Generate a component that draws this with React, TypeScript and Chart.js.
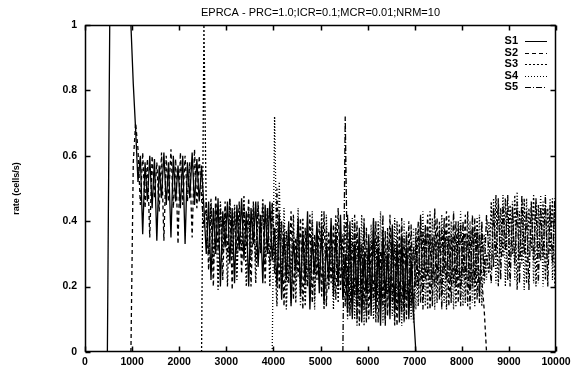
import React, { useEffect, useRef } from "react";
import { Chart, registerables } from "chart.js";

Chart.register(...registerables);

const TITLE = "EPRCA - PRC=1.0;ICR=0.1;MCR=0.01;NRM=10";
const Y_LABEL = "rate (cells/s)";
const SERIES_NAMES = ["S1", "S2", "S3", "S4", "S5"];
const X_TICKS = [0, 1000, 2000, 3000, 4000, 5000, 6000, 7000, 8000, 9000, 10000];
const Y_TICKS = [0, 0.2, 0.4, 0.6, 0.8, 1];

// sampling interval of the rate traces (time units)
const STEP = 50;

const S1_START = 475;
const S1 = [
  0, 1, 1, 1, 1, 1, 1, 1, 1, 1, 1, 0.82,
  0.68, 0.52, 0.6, 0.36, 0.58, 0.46, 0.6, 0.44, 0.59, 0.34, 0.57, 0.47, 0.61, 0.45, 0.58,
  0.35, 0.6, 0.46, 0.57, 0.44, 0.6, 0.33, 0.58, 0.47, 0.61, 0.45, 0.59, 0.46, 0.57,
  0.44, 0.3, 0.46, 0.22, 0.44, 0.3, 0.47, 0.2, 0.43, 0.32, 0.46, 0.27, 0.44, 0.21, 0.45,
  0.31, 0.47, 0.28, 0.43, 0.2, 0.44, 0.33, 0.46, 0.26, 0.42, 0.21, 0.45, 0.3, 0.46, 0.28,
  0.38, 0.2, 0.42, 0.16, 0.36, 0.22, 0.4, 0.14, 0.34, 0.25, 0.41, 0.17, 0.37, 0.21, 0.43,
  0.13, 0.35, 0.24, 0.4, 0.18, 0.38, 0.15, 0.33, 0.22, 0.41, 0.17, 0.36, 0.2, 0.42, 0.16,
  0.3, 0.12, 0.4, 0.1, 0.33, 0.16, 0.38, 0.09, 0.3, 0.18, 0.36, 0.11, 0.41, 0.14, 0.32,
  0.08, 0.37, 0.17, 0.3, 0.1, 0.39, 0.13, 0.34, 0.09, 0.36, 0.15, 0.31, 0.1, 0.28, 0.12,
  0,
];

const S2_START = 975;
const S2 = [
  0, 0.58,
  0.7, 0.62, 0.45, 0.61, 0.44, 0.59, 0.35, 0.6, 0.47, 0.58, 0.43, 0.61, 0.34, 0.6, 0.46,
  0.62, 0.44, 0.59, 0.33, 0.61, 0.45, 0.6, 0.46, 0.58, 0.35, 0.62, 0.44, 0.6, 0.47,
  0.38, 0.46, 0.25, 0.45, 0.2, 0.48, 0.31, 0.44, 0.22, 0.46, 0.29, 0.47, 0.19, 0.43, 0.3,
  0.46, 0.24, 0.45, 0.32, 0.47, 0.2, 0.44, 0.28, 0.46, 0.31, 0.45, 0.21, 0.44, 0.27, 0.46,
  0.24, 0.5, 0.19, 0.4, 0.14, 0.37, 0.21, 0.43, 0.16, 0.35, 0.23, 0.41, 0.13, 0.38, 0.2,
  0.42, 0.15, 0.36, 0.22, 0.4, 0.17, 0.43, 0.14, 0.37, 0.21, 0.39, 0.16, 0.44, 0.19, 0.36,
  0.14, 0.42, 0.11, 0.35, 0.17, 0.4, 0.08, 0.33, 0.13, 0.38, 0.1, 0.34, 0.16, 0.4, 0.09,
  0.31, 0.14, 0.37, 0.11, 0.42, 0.15, 0.33, 0.08, 0.39, 0.12, 0.35, 0.1, 0.4, 0.14, 0.32,
  0.2, 0.4, 0.15, 0.37, 0.22, 0.42, 0.13, 0.35, 0.2, 0.41, 0.16, 0.38, 0.24, 0.43, 0.14,
  0.36, 0.21, 0.4, 0.15, 0.39, 0.23, 0.42, 0.14, 0.37, 0.2, 0.41, 0.16, 0.36, 0.22, 0.13,
  0,
];

const S3_START = 2475;
const S3 = [
  0, 1.0,
  0.42, 0.3, 0.47, 0.27, 0.45, 0.19, 0.46, 0.3, 0.44, 0.2, 0.47, 0.29, 0.45, 0.22, 0.44,
  0.31, 0.48, 0.2, 0.43, 0.28, 0.46, 0.21, 0.45, 0.3, 0.47, 0.27, 0.44, 0.2, 0.45,
  0.3, 0.14, 0.43, 0.21, 0.39, 0.13, 0.36, 0.24, 0.42, 0.15, 0.37, 0.2, 0.41, 0.14, 0.34,
  0.23, 0.4, 0.16, 0.36, 0.21, 0.43, 0.13, 0.38, 0.19, 0.35, 0.24, 0.42, 0.15, 0.37, 0.22,
  0.4, 0.1, 0.32, 0.15, 0.39, 0.08, 0.34, 0.16, 0.41, 0.11, 0.3, 0.17, 0.36, 0.09, 0.4,
  0.14, 0.31, 0.1, 0.38, 0.16, 0.33, 0.08, 0.4, 0.13, 0.3, 0.11, 0.37, 0.15, 0.33, 0.09,
  0.38, 0.14, 0.41, 0.2, 0.36, 0.13, 0.43, 0.22, 0.35, 0.15, 0.4, 0.18, 0.37, 0.13, 0.42,
  0.21, 0.36, 0.14, 0.4, 0.19, 0.35, 0.15, 0.43, 0.2, 0.38, 0.14, 0.41, 0.17, 0.37, 0.21,
  0.3, 0.24, 0.46, 0.26, 0.48, 0.2, 0.44, 0.29, 0.47, 0.22, 0.45, 0.3, 0.48, 0.19, 0.43,
  0.27, 0.47, 0.21, 0.44, 0.31, 0.48, 0.2, 0.45, 0.28, 0.46, 0.22, 0.44, 0.3, 0.47, 0.2,
];

const S4_START = 3975;
const S4 = [
  0, 0.72,
  0.28, 0.52, 0.18, 0.44, 0.24, 0.39, 0.15, 0.38, 0.22, 0.44, 0.14, 0.35, 0.25, 0.4, 0.17,
  0.43, 0.13, 0.37, 0.23, 0.39, 0.16, 0.42, 0.2, 0.36, 0.13, 0.4, 0.24, 0.35, 0.18,
  0.22, 0.38, 0.13, 0.41, 0.1, 0.36, 0.15, 0.42, 0.08, 0.32, 0.18, 0.39, 0.1, 0.35, 0.16,
  0.43, 0.09, 0.3, 0.17, 0.37, 0.11, 0.41, 0.14, 0.32, 0.08, 0.4, 0.16, 0.34, 0.1, 0.38,
  0.13, 0.36, 0.22, 0.43, 0.14, 0.38, 0.2, 0.41, 0.13, 0.35, 0.23, 0.42, 0.15, 0.37, 0.21,
  0.4, 0.13, 0.36, 0.22, 0.43, 0.14, 0.35, 0.2, 0.4, 0.15, 0.38, 0.23, 0.42, 0.14, 0.36,
  0.22, 0.4, 0.27, 0.47, 0.21, 0.45, 0.3, 0.48, 0.2, 0.44, 0.28, 0.46, 0.22, 0.49, 0.29,
  0.45, 0.19, 0.47, 0.27, 0.44, 0.21, 0.46, 0.3, 0.48, 0.2, 0.45, 0.28, 0.47, 0.22, 0.46,
];

const S5_START = 5475;
const S5 = [
  0, 0.72,
  0.2, 0.37, 0.12, 0.42, 0.1, 0.35, 0.18, 0.39, 0.09, 0.33, 0.15, 0.4, 0.12, 0.36, 0.17,
  0.42, 0.08, 0.34, 0.14, 0.38, 0.1, 0.31, 0.16, 0.41, 0.09, 0.36, 0.13, 0.39, 0.1,
  0.35, 0.2, 0.42, 0.13, 0.39, 0.23, 0.36, 0.14, 0.44, 0.21, 0.37, 0.13, 0.41, 0.22, 0.35,
  0.15, 0.43, 0.2, 0.38, 0.14, 0.4, 0.22, 0.36, 0.13, 0.42, 0.21, 0.37, 0.15, 0.4, 0.23,
  0.42, 0.3, 0.21, 0.44, 0.29, 0.47, 0.22, 0.45, 0.31, 0.48, 0.2, 0.44, 0.27, 0.46, 0.21,
  0.48, 0.3, 0.43, 0.19, 0.46, 0.28, 0.47, 0.21, 0.44, 0.29, 0.48, 0.2, 0.45, 0.27, 0.47,
];

const SERIES_STARTS = [S1_START, S2_START, S3_START, S4_START, S5_START];
const SERIES_VALUES = [S1, S2, S3, S4, S5];
const DASHES = [[], [4, 3], [2, 2], [1, 2], [6, 2, 1, 2]];

const FONT = "'Liberation Sans', Arial, Helvetica, sans-serif";

const toPoints = (start: number, vals: number[]) =>
  vals.map((y, i) => ({ x: start + i * STEP, y }));

const framePlugin = {
  id: "gnuFrame",
  beforeDatasetsDraw(chart: any) {
    const { ctx, chartArea: a, scales } = chart;
    ctx.save();
    ctx.strokeStyle = "#000";
    ctx.lineWidth = 1.5;
    ctx.setLineDash([]);
    const L = Math.round(a.left) + 0.5;
    const R = Math.round(a.right) - 0.5;
    const T = Math.round(a.top) + 0.5;
    const B = Math.round(a.bottom) - 0.5;
    ctx.strokeRect(L, T, R - L, B - T);
    const len = 5;
    ctx.beginPath();
    X_TICKS.forEach((v) => {
      const px = Math.round(scales.x.getPixelForValue(v)) + 0.5;
      ctx.moveTo(px, B);
      ctx.lineTo(px, B - len);
      ctx.moveTo(px, T);
      ctx.lineTo(px, T + len);
    });
    Y_TICKS.forEach((v) => {
      const py = Math.round(scales.y.getPixelForValue(v)) + 0.5;
      ctx.moveTo(L, py);
      ctx.lineTo(L + len, py);
      ctx.moveTo(R, py);
      ctx.lineTo(R - len, py);
    });
    ctx.stroke();
    ctx.restore();
  },
};

const legendPlugin = {
  id: "gnuLegend",
  afterDatasetsDraw(chart: any) {
    const { ctx, chartArea: a } = chart;
    ctx.save();
    ctx.font = `bold 11px ${FONT}`;
    ctx.fillStyle = "#000";
    ctx.strokeStyle = "#000";
    ctx.lineWidth = 1;
    ctx.textAlign = "right";
    ctx.textBaseline = "middle";
    SERIES_NAMES.forEach((name, i) => {
      const y = a.top + 16 + i * 11.5;
      ctx.fillText(name, a.right - 38, y);
      ctx.setLineDash(DASHES[i]);
      ctx.beginPath();
      ctx.moveTo(a.right - 31, Math.round(y) + 0.5);
      ctx.lineTo(a.right - 9, Math.round(y) + 0.5);
      ctx.stroke();
    });
    ctx.restore();
  },
};

export default function App() {
  const ref = useRef<HTMLCanvasElement | null>(null);

  useEffect(() => {
    document.body.style.margin = "0";
    const canvas = ref.current;
    if (!canvas) return;
    const chart = new Chart(canvas, {
      type: "line",
      data: {
        datasets: SERIES_NAMES.map((name, i) => ({
          label: name,
          data: toPoints(SERIES_STARTS[i], SERIES_VALUES[i]),
          borderColor: "#000",
          backgroundColor: "#000",
          borderWidth: 1.3,
          borderDash: DASHES[i],
          pointRadius: 0,
          tension: 0,
          fill: false,
        })),
      },
      options: {
        responsive: false,
        animation: false,
        devicePixelRatio: 1,
        layout: { padding: { left: 0, right: 20, top: 0, bottom: 0 } },
        plugins: {
          legend: { display: false },
          tooltip: { enabled: false },
          title: {
            display: true,
            text: TITLE,
            fullSize: false,
            color: "#000",
            font: { family: FONT, size: 11, weight: "normal" },
            padding: { top: 6, bottom: 5.8 },
          },
        },
        scales: {
          x: {
            type: "linear",
            min: 0,
            max: 10000,
            afterFit: (s: any) => {
              s.height = 18;
            },
            grid: { display: false, drawTicks: false },
            border: { display: false },
            ticks: {
              stepSize: 1000,
              autoSkip: false,
              maxRotation: 0,
              padding: 4,
              color: "#000",
              font: { family: FONT, size: 10.5, weight: "bold" },
              callback: (v: any) => String(v),
            },
          },
          y: {
            type: "linear",
            min: 0,
            max: 1,
            afterFit: (s: any) => {
              s.width = 85;
            },
            grid: { display: false, drawTicks: false },
            border: { display: false },
            title: {
              display: true,
              text: Y_LABEL,
              color: "#000",
              font: { family: FONT, size: 9, weight: "bold" },
              padding: { top: 11, bottom: 0 },
            },
            ticks: {
              stepSize: 0.2,
              padding: 8,
              color: "#000",
              font: { family: FONT, size: 10.5, weight: "bold" },
              callback: (v: any) => String(Number(Number(v).toFixed(1))),
            },
          },
        },
      },
      plugins: [framePlugin, legendPlugin],
    } as any);
    return () => chart.destroy();
  }, []);

  return (
    <div style={{ position: "absolute", left: 0, top: 0, width: 576, height: 370, background: "#fff" }}>
      <canvas ref={ref} width={576} height={370} style={{ display: "block", width: 576, height: 370 }} />
    </div>
  );
}
